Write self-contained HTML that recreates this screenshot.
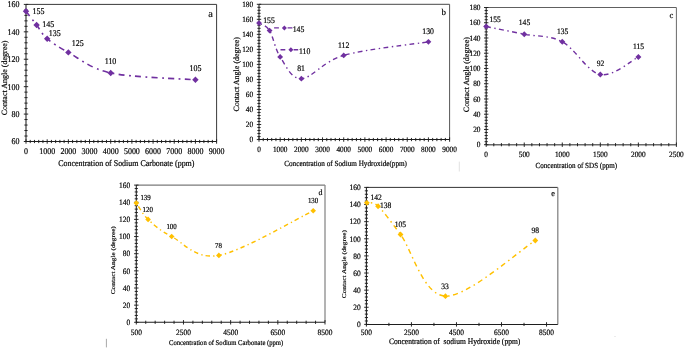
<!DOCTYPE html>
<html><head><meta charset="utf-8"><style>
html,body{margin:0;padding:0;background:#fff;}
svg{display:block;will-change:transform;filter:blur(0.3px);}
text{font-family:"Liberation Serif", serif;fill:#000;text-rendering:geometricPrecision;stroke:#000;stroke-width:0.18px;}
</style></head><body>
<svg width="685" height="349" viewBox="0 0 685 349">
<path d="M26,4.4 H216.6" fill="none" stroke="#3a3a3a" stroke-width="1"/>
<path d="M216.6,4.4 V141.5" fill="none" stroke="#3a3a3a" stroke-width="1"/>
<path d="M26,4.4 V141.5" fill="none" stroke="#1e1e1e" stroke-width="1.05"/>
<path d="M26,141.5 H216.6" fill="none" stroke="#1e1e1e" stroke-width="1.05"/>
<path d="M23.8,141.5 H28.2 M24.4,136.02 H27.6 M24.4,130.53 H27.6 M24.4,125.05 H27.6 M24.4,119.56 H27.6 M23.8,114.08 H28.2 M24.4,108.6 H27.6 M24.4,103.11 H27.6 M24.4,97.63 H27.6 M24.4,92.14 H27.6 M23.8,86.66 H28.2 M24.4,81.18 H27.6 M24.4,75.69 H27.6 M24.4,70.21 H27.6 M24.4,64.72 H27.6 M23.8,59.24 H28.2 M24.4,53.76 H27.6 M24.4,48.27 H27.6 M24.4,42.79 H27.6 M24.4,37.3 H27.6 M23.8,31.82 H28.2 M24.4,26.34 H27.6 M24.4,20.85 H27.6 M24.4,15.37 H27.6 M24.4,9.88 H27.6 M23.8,4.4 H28.2 M26,139.3 V143.7 M30.24,139.9 V143.1 M34.47,139.9 V143.1 M38.71,139.9 V143.1 M42.94,139.9 V143.1 M47.18,139.3 V143.7 M51.41,139.9 V143.1 M55.65,139.9 V143.1 M59.88,139.9 V143.1 M64.12,139.9 V143.1 M68.36,139.3 V143.7 M72.59,139.9 V143.1 M76.83,139.9 V143.1 M81.06,139.9 V143.1 M85.3,139.9 V143.1 M89.53,139.3 V143.7 M93.77,139.9 V143.1 M98,139.9 V143.1 M102.24,139.9 V143.1 M106.48,139.9 V143.1 M110.71,139.3 V143.7 M114.95,139.9 V143.1 M119.18,139.9 V143.1 M123.42,139.9 V143.1 M127.65,139.9 V143.1 M131.89,139.3 V143.7 M136.12,139.9 V143.1 M140.36,139.9 V143.1 M144.6,139.9 V143.1 M148.83,139.9 V143.1 M153.07,139.3 V143.7 M157.3,139.9 V143.1 M161.54,139.9 V143.1 M165.77,139.9 V143.1 M170.01,139.9 V143.1 M174.24,139.3 V143.7 M178.48,139.9 V143.1 M182.72,139.9 V143.1 M186.95,139.9 V143.1 M191.19,139.9 V143.1 M195.42,139.3 V143.7 M199.66,139.9 V143.1 M203.89,139.9 V143.1 M208.13,139.9 V143.1 M212.36,139.9 V143.1 M216.6,139.3 V143.7" stroke="#1e1e1e" stroke-width="0.95" fill="none"/>
<text transform="translate(19.4,144.48) scale(1,1.1)" font-size="7.98" text-anchor="end" >60</text>
<text transform="translate(19.4,117.06) scale(1,1.1)" font-size="7.98" text-anchor="end" >80</text>
<text transform="translate(19.4,89.64) scale(1,1.1)" font-size="7.98" text-anchor="end" >100</text>
<text transform="translate(19.4,62.22) scale(1,1.1)" font-size="7.98" text-anchor="end" >120</text>
<text transform="translate(19.4,34.8) scale(1,1.1)" font-size="7.98" text-anchor="end" >140</text>
<text transform="translate(19.4,7.38) scale(1,1.1)" font-size="7.98" text-anchor="end" >160</text>
<text transform="translate(26,154.08) scale(1,1.1)" font-size="7.98" text-anchor="middle" >0</text>
<text transform="translate(47.18,154.08) scale(1,1.1)" font-size="7.98" text-anchor="middle" >1000</text>
<text transform="translate(68.36,154.08) scale(1,1.1)" font-size="7.98" text-anchor="middle" >2000</text>
<text transform="translate(89.53,154.08) scale(1,1.1)" font-size="7.98" text-anchor="middle" >3000</text>
<text transform="translate(110.71,154.08) scale(1,1.1)" font-size="7.98" text-anchor="middle" >4000</text>
<text transform="translate(131.89,154.08) scale(1,1.1)" font-size="7.98" text-anchor="middle" >5000</text>
<text transform="translate(153.07,154.08) scale(1,1.1)" font-size="7.98" text-anchor="middle" >6000</text>
<text transform="translate(174.24,154.08) scale(1,1.1)" font-size="7.98" text-anchor="middle" >7000</text>
<text transform="translate(195.42,154.08) scale(1,1.1)" font-size="7.98" text-anchor="middle" >8000</text>
<text transform="translate(216.6,154.08) scale(1,1.1)" font-size="7.98" text-anchor="middle" >9000</text>
<text transform="translate(126.3,166) scale(1,1.1)" font-size="7.95" text-anchor="middle" xml:space="preserve">Concentration of Sodium Carbonate (ppm)</text>
<text transform="translate(4.9,77.9) scale(1,1) rotate(-90)" y="2.4" font-size="8.0" text-anchor="middle">Contact Angle (degree)</text>
<text transform="translate(210.5,16.7) scale(1,1.0)" font-size="10.4" text-anchor="middle" >a</text>
<path d="M26,11.25 C27.76,13.54 33.06,20.4 36.59,24.97 C40.12,29.54 41.88,34.1 47.18,38.67 C52.47,43.24 57.77,46.67 68.36,52.39 C78.94,58.1 89.53,68.38 110.71,72.95 C131.89,77.52 181.3,78.66 195.42,79.81" fill="none" stroke="#7030A0" stroke-width="1.6" stroke-dasharray="6 4.5 1.8 4.2" stroke-dashoffset="0"/>
<path d="M26,8.05 L29.2,11.25 L26,14.45 L22.8,11.25Z" fill="#7030A0"/>
<path d="M36.59,21.77 L39.79,24.97 L36.59,28.17 L33.39,24.97Z" fill="#7030A0"/>
<path d="M47.18,35.47 L50.38,38.67 L47.18,41.88 L43.98,38.67Z" fill="#7030A0"/>
<path d="M68.36,49.19 L71.56,52.39 L68.36,55.59 L65.16,52.39Z" fill="#7030A0"/>
<path d="M110.71,69.75 L113.91,72.95 L110.71,76.15 L107.51,72.95Z" fill="#7030A0"/>
<path d="M195.42,76.61 L198.62,79.81 L195.42,83.01 L192.22,79.81Z" fill="#7030A0"/>
<text transform="translate(32.6,14.18) scale(1,1.1)" font-size="7.98" text-anchor="start" >155</text>
<text transform="translate(42.3,26.78) scale(1,1.1)" font-size="7.98" text-anchor="start" >145</text>
<text transform="translate(48.7,35.78) scale(1,1.1)" font-size="7.98" text-anchor="start" >135</text>
<text transform="translate(71.7,45.98) scale(1,1.1)" font-size="7.98" text-anchor="start" >125</text>
<text transform="translate(104.7,64.08) scale(1,1.1)" font-size="7.98" text-anchor="start" >110</text>
<text transform="translate(195.4,70.98) scale(1,1.1)" font-size="7.98" text-anchor="middle" >105</text>
<path d="M259,4.3 H449.6" fill="none" stroke="#484848" stroke-width="1"/>
<path d="M449.6,4.3 V139.55" fill="none" stroke="#555" stroke-width="1"/>
<path d="M259,4.3 V139.55" fill="none" stroke="#1e1e1e" stroke-width="1.05"/>
<path d="M259,139.55 H449.6" fill="none" stroke="#1e1e1e" stroke-width="1.05"/>
<path d="M256.8,139.55 H261.2 M257.4,136.54 H260.6 M257.4,133.54 H260.6 M257.4,130.53 H260.6 M257.4,127.53 H260.6 M256.8,124.52 H261.2 M257.4,121.52 H260.6 M257.4,118.51 H260.6 M257.4,115.51 H260.6 M257.4,112.5 H260.6 M256.8,109.49 H261.2 M257.4,106.49 H260.6 M257.4,103.48 H260.6 M257.4,100.48 H260.6 M257.4,97.47 H260.6 M256.8,94.47 H261.2 M257.4,91.46 H260.6 M257.4,88.46 H260.6 M257.4,85.45 H260.6 M257.4,82.44 H260.6 M256.8,79.44 H261.2 M257.4,76.43 H260.6 M257.4,73.43 H260.6 M257.4,70.42 H260.6 M257.4,67.42 H260.6 M256.8,64.41 H261.2 M257.4,61.41 H260.6 M257.4,58.4 H260.6 M257.4,55.39 H260.6 M257.4,52.39 H260.6 M256.8,49.38 H261.2 M257.4,46.38 H260.6 M257.4,43.37 H260.6 M257.4,40.37 H260.6 M257.4,37.36 H260.6 M256.8,34.36 H261.2 M257.4,31.35 H260.6 M257.4,28.34 H260.6 M257.4,25.34 H260.6 M257.4,22.33 H260.6 M256.8,19.33 H261.2 M257.4,16.32 H260.6 M257.4,13.32 H260.6 M257.4,10.31 H260.6 M257.4,7.31 H260.6 M256.8,4.3 H261.2 M259,137.35 V141.75 M263.24,137.95 V141.15 M267.47,137.95 V141.15 M271.71,137.95 V141.15 M275.94,137.95 V141.15 M280.18,137.35 V141.75 M284.41,137.95 V141.15 M288.65,137.95 V141.15 M292.88,137.95 V141.15 M297.12,137.95 V141.15 M301.36,137.35 V141.75 M305.59,137.95 V141.15 M309.83,137.95 V141.15 M314.06,137.95 V141.15 M318.3,137.95 V141.15 M322.53,137.35 V141.75 M326.77,137.95 V141.15 M331,137.95 V141.15 M335.24,137.95 V141.15 M339.48,137.95 V141.15 M343.71,137.35 V141.75 M347.95,137.95 V141.15 M352.18,137.95 V141.15 M356.42,137.95 V141.15 M360.65,137.95 V141.15 M364.89,137.35 V141.75 M369.12,137.95 V141.15 M373.36,137.95 V141.15 M377.6,137.95 V141.15 M381.83,137.95 V141.15 M386.07,137.35 V141.75 M390.3,137.95 V141.15 M394.54,137.95 V141.15 M398.77,137.95 V141.15 M403.01,137.95 V141.15 M407.24,137.35 V141.75 M411.48,137.95 V141.15 M415.72,137.95 V141.15 M419.95,137.95 V141.15 M424.19,137.95 V141.15 M428.42,137.35 V141.75 M432.66,137.95 V141.15 M436.89,137.95 V141.15 M441.13,137.95 V141.15 M445.36,137.95 V141.15 M449.6,137.35 V141.75" stroke="#1e1e1e" stroke-width="0.95" fill="none"/>
<text transform="translate(253.1,142.48) scale(1,1.1)" font-size="7.3" text-anchor="end" >0</text>
<text transform="translate(253.1,127.45) scale(1,1.1)" font-size="7.3" text-anchor="end" >20</text>
<text transform="translate(253.1,112.42) scale(1,1.1)" font-size="7.3" text-anchor="end" >40</text>
<text transform="translate(253.1,97.4) scale(1,1.1)" font-size="7.3" text-anchor="end" >60</text>
<text transform="translate(253.1,82.37) scale(1,1.1)" font-size="7.3" text-anchor="end" >80</text>
<text transform="translate(253.1,67.34) scale(1,1.1)" font-size="7.3" text-anchor="end" >100</text>
<text transform="translate(253.1,52.31) scale(1,1.1)" font-size="7.3" text-anchor="end" >120</text>
<text transform="translate(253.1,37.28) scale(1,1.1)" font-size="7.3" text-anchor="end" >140</text>
<text transform="translate(253.1,22.26) scale(1,1.1)" font-size="7.3" text-anchor="end" >160</text>
<text transform="translate(253.1,7.23) scale(1,1.1)" font-size="7.3" text-anchor="end" >180</text>
<text transform="translate(259,151.97) scale(1,1.1)" font-size="7.3" text-anchor="middle" >0</text>
<text transform="translate(280.18,151.97) scale(1,1.1)" font-size="7.3" text-anchor="middle" >1000</text>
<text transform="translate(301.36,151.97) scale(1,1.1)" font-size="7.3" text-anchor="middle" >2000</text>
<text transform="translate(322.53,151.97) scale(1,1.1)" font-size="7.3" text-anchor="middle" >3000</text>
<text transform="translate(343.71,151.97) scale(1,1.1)" font-size="7.3" text-anchor="middle" >4000</text>
<text transform="translate(364.89,151.97) scale(1,1.1)" font-size="7.3" text-anchor="middle" >5000</text>
<text transform="translate(386.07,151.97) scale(1,1.1)" font-size="7.3" text-anchor="middle" >6000</text>
<text transform="translate(407.24,151.97) scale(1,1.1)" font-size="7.3" text-anchor="middle" >7000</text>
<text transform="translate(428.42,151.97) scale(1,1.1)" font-size="7.3" text-anchor="middle" >8000</text>
<text transform="translate(449.6,151.97) scale(1,1.1)" font-size="7.3" text-anchor="middle" >9000</text>
<text transform="translate(345.6,165.7) scale(1,1.1)" font-size="7.2" text-anchor="middle" xml:space="preserve">Concentration of Sodium Hydroxide(ppm)</text>
<text transform="translate(236.7,74.3) scale(1,1) rotate(-90)" y="2.4" font-size="8.0" text-anchor="middle">Contact Angle (degree)</text>
<text transform="translate(443.7,15.2) scale(1,1.0)" font-size="9" text-anchor="middle" >b</text>
<path d="M259,23.08 C260.76,24.34 266.06,24.96 269.59,30.6 C273.12,36.23 274.88,48.88 280.18,56.9 C285.47,64.91 290.77,78.94 301.36,78.69 C311.94,78.44 322.53,61.53 343.71,55.39 C364.89,49.26 414.3,44.12 428.42,41.87" fill="none" stroke="#7030A0" stroke-width="1.4" stroke-dasharray="4.73 3.55 1.42 3.31" stroke-dashoffset="6.4"/>
<path d="M274.1,27.9 H278.9 M287.6,27.9 H292.4 M280.5,49.8 H285.3 M293.6,49.8 H298.2" stroke="#7030A0" stroke-width="1.4" fill="none"/>
<path d="M284.4,25.4 L286.9,27.9 L284.4,30.4 L281.9,27.9Z" fill="#7030A0"/>
<path d="M290.9,47.3 L293.4,49.8 L290.9,52.3 L288.4,49.8Z" fill="#7030A0"/>
<path d="M259,20.18 L261.9,23.08 L259,25.98 L256.1,23.08Z" fill="#7030A0"/>
<path d="M269.59,27.7 L272.49,30.6 L269.59,33.5 L266.69,30.6Z" fill="#7030A0"/>
<path d="M280.18,54 L283.08,56.9 L280.18,59.8 L277.28,56.9Z" fill="#7030A0"/>
<path d="M301.36,75.79 L304.26,78.69 L301.36,81.59 L298.46,78.69Z" fill="#7030A0"/>
<path d="M343.71,52.49 L346.61,55.39 L343.71,58.29 L340.81,55.39Z" fill="#7030A0"/>
<path d="M428.42,38.97 L431.32,41.87 L428.42,44.77 L425.52,41.87Z" fill="#7030A0"/>
<text transform="translate(263.2,22.81) scale(1,1.1)" font-size="7.77" text-anchor="start" >155</text>
<text transform="translate(292.7,31.81) scale(1,1.1)" font-size="7.77" text-anchor="start" >145</text>
<text transform="translate(299,53.51) scale(1,1.1)" font-size="7.77" text-anchor="start" >110</text>
<text transform="translate(301.1,71.01) scale(1,1.1)" font-size="7.77" text-anchor="middle" >81</text>
<text transform="translate(343.6,48.01) scale(1,1.1)" font-size="7.77" text-anchor="middle" >112</text>
<text transform="translate(428.1,34.31) scale(1,1.1)" font-size="7.77" text-anchor="middle" >130</text>
<path d="M486.2,7.5 H676.4" fill="none" stroke="#606060" stroke-width="1"/>
<path d="M676.4,7.5 V144.7" fill="none" stroke="#6a6a6a" stroke-width="1"/>
<path d="M486.2,7.5 V144.7" fill="none" stroke="#1e1e1e" stroke-width="1.05"/>
<path d="M486.2,144.7 H676.4" fill="none" stroke="#6a6a6a" stroke-width="1.5"/>
<path d="M484,144.7 H488.4 M484.6,141.65 H487.8 M484.6,138.6 H487.8 M484.6,135.55 H487.8 M484.6,132.5 H487.8 M484,129.46 H488.4 M484.6,126.41 H487.8 M484.6,123.36 H487.8 M484.6,120.31 H487.8 M484.6,117.26 H487.8 M484,114.21 H488.4 M484.6,111.16 H487.8 M484.6,108.11 H487.8 M484.6,105.06 H487.8 M484.6,102.02 H487.8 M484,98.97 H488.4 M484.6,95.92 H487.8 M484.6,92.87 H487.8 M484.6,89.82 H487.8 M484.6,86.77 H487.8 M484,83.72 H488.4 M484.6,80.67 H487.8 M484.6,77.62 H487.8 M484.6,74.58 H487.8 M484.6,71.53 H487.8 M484,68.48 H488.4 M484.6,65.43 H487.8 M484.6,62.38 H487.8 M484.6,59.33 H487.8 M484.6,56.28 H487.8 M484,53.23 H488.4 M484.6,50.18 H487.8 M484.6,47.14 H487.8 M484.6,44.09 H487.8 M484.6,41.04 H487.8 M484,37.99 H488.4 M484.6,34.94 H487.8 M484.6,31.89 H487.8 M484.6,28.84 H487.8 M484.6,25.79 H487.8 M484,22.74 H488.4 M484.6,19.7 H487.8 M484.6,16.65 H487.8 M484.6,13.6 H487.8 M484.6,10.55 H487.8 M484,7.5 H488.4 M486.2,142.5 V146.9 M493.81,143.1 V146.3 M501.42,143.1 V146.3 M509.02,143.1 V146.3 M516.63,143.1 V146.3 M524.24,142.5 V146.9 M531.85,143.1 V146.3 M539.46,143.1 V146.3 M547.06,143.1 V146.3 M554.67,143.1 V146.3 M562.28,142.5 V146.9 M569.89,143.1 V146.3 M577.5,143.1 V146.3 M585.1,143.1 V146.3 M592.71,143.1 V146.3 M600.32,142.5 V146.9 M607.93,143.1 V146.3 M615.54,143.1 V146.3 M623.14,143.1 V146.3 M630.75,143.1 V146.3 M638.36,142.5 V146.9 M645.97,143.1 V146.3 M653.58,143.1 V146.3 M661.18,143.1 V146.3 M668.79,143.1 V146.3 M676.4,142.5 V146.9" stroke="#1e1e1e" stroke-width="0.95" fill="none"/>
<text transform="translate(480.5,147.25) scale(1,1.1)" font-size="7.35" text-anchor="end" >0</text>
<text transform="translate(480.5,132) scale(1,1.1)" font-size="7.35" text-anchor="end" >20</text>
<text transform="translate(480.5,116.76) scale(1,1.1)" font-size="7.35" text-anchor="end" >40</text>
<text transform="translate(480.5,101.52) scale(1,1.1)" font-size="7.35" text-anchor="end" >60</text>
<text transform="translate(480.5,86.27) scale(1,1.1)" font-size="7.35" text-anchor="end" >80</text>
<text transform="translate(480.5,71.03) scale(1,1.1)" font-size="7.35" text-anchor="end" >100</text>
<text transform="translate(480.5,55.78) scale(1,1.1)" font-size="7.35" text-anchor="end" >120</text>
<text transform="translate(480.5,40.54) scale(1,1.1)" font-size="7.35" text-anchor="end" >140</text>
<text transform="translate(480.5,25.29) scale(1,1.1)" font-size="7.35" text-anchor="end" >160</text>
<text transform="translate(480.5,10.05) scale(1,1.1)" font-size="7.35" text-anchor="end" >180</text>
<text transform="translate(486.2,157.15) scale(1,1.1)" font-size="7.35" text-anchor="middle" >0</text>
<text transform="translate(524.24,157.15) scale(1,1.1)" font-size="7.35" text-anchor="middle" >500</text>
<text transform="translate(562.28,157.15) scale(1,1.1)" font-size="7.35" text-anchor="middle" >1000</text>
<text transform="translate(600.32,157.15) scale(1,1.1)" font-size="7.35" text-anchor="middle" >1500</text>
<text transform="translate(638.36,157.15) scale(1,1.1)" font-size="7.35" text-anchor="middle" >2000</text>
<text transform="translate(676.4,157.15) scale(1,1.1)" font-size="7.35" text-anchor="middle" >2500</text>
<text transform="translate(576.3,168) scale(1,1.1)" font-size="7.1" text-anchor="middle" xml:space="preserve">Concentration of SDS (ppm)</text>
<text transform="translate(466.2,74.6) scale(1,1) rotate(-90)" y="2.42" font-size="8.05" text-anchor="middle">Contact Angle (degree)</text>
<text transform="translate(671.3,17.9) scale(1,1.0)" font-size="8.6" text-anchor="middle" >c</text>
<path d="M486.2,26.56 C492.54,27.83 511.56,31.64 524.24,34.18 C536.92,36.72 549.6,35.07 562.28,41.8 C574.96,48.53 587.64,72.03 600.32,74.58 C613,77.12 632.02,59.97 638.36,57.04" fill="none" stroke="#7030A0" stroke-width="1.4" stroke-dasharray="4.8 3.6 1.44 3.36" stroke-dashoffset="0"/>
<path d="M486.2,23.56 L489.2,26.56 L486.2,29.56 L483.2,26.56Z" fill="#7030A0"/>
<path d="M524.24,31.18 L527.24,34.18 L524.24,37.18 L521.24,34.18Z" fill="#7030A0"/>
<path d="M562.28,38.8 L565.28,41.8 L562.28,44.8 L559.28,41.8Z" fill="#7030A0"/>
<path d="M600.32,71.58 L603.32,74.58 L600.32,77.58 L597.32,74.58Z" fill="#7030A0"/>
<path d="M638.36,54.04 L641.36,57.04 L638.36,60.04 L635.36,57.04Z" fill="#7030A0"/>
<text transform="translate(489.4,21.73) scale(1,1.1)" font-size="7.56" text-anchor="start" >155</text>
<text transform="translate(524.5,25.43) scale(1,1.1)" font-size="7.56" text-anchor="middle" >145</text>
<text transform="translate(562.6,33.63) scale(1,1.1)" font-size="7.56" text-anchor="middle" >135</text>
<text transform="translate(600.5,66.23) scale(1,1.1)" font-size="7.56" text-anchor="middle" >92</text>
<text transform="translate(638.5,48.63) scale(1,1.1)" font-size="7.56" text-anchor="middle" >115</text>
<path d="M136.3,185.1 H325" fill="none" stroke="#7a7a7a" stroke-width="1.3"/>
<path d="M325,185.1 V322.3" fill="none" stroke="#8a8a8a" stroke-width="1.3"/>
<path d="M136.3,185.1 V322.3" fill="none" stroke="#1e1e1e" stroke-width="1.05"/>
<path d="M136.3,322.3 H325" fill="none" stroke="#1e1e1e" stroke-width="1.05"/>
<path d="M134.1,322.3 H138.5 M134.7,318.87 H137.9 M134.7,315.44 H137.9 M134.7,312.01 H137.9 M134.7,308.58 H137.9 M134.1,305.15 H138.5 M134.7,301.72 H137.9 M134.7,298.29 H137.9 M134.7,294.86 H137.9 M134.7,291.43 H137.9 M134.1,288 H138.5 M134.7,284.57 H137.9 M134.7,281.14 H137.9 M134.7,277.71 H137.9 M134.7,274.28 H137.9 M134.1,270.85 H138.5 M134.7,267.42 H137.9 M134.7,263.99 H137.9 M134.7,260.56 H137.9 M134.7,257.13 H137.9 M134.1,253.7 H138.5 M134.7,250.27 H137.9 M134.7,246.84 H137.9 M134.7,243.41 H137.9 M134.7,239.98 H137.9 M134.1,236.55 H138.5 M134.7,233.12 H137.9 M134.7,229.69 H137.9 M134.7,226.26 H137.9 M134.7,222.83 H137.9 M134.1,219.4 H138.5 M134.7,215.97 H137.9 M134.7,212.54 H137.9 M134.7,209.11 H137.9 M134.7,205.68 H137.9 M134.1,202.25 H138.5 M134.7,198.82 H137.9 M134.7,195.39 H137.9 M134.7,191.96 H137.9 M134.7,188.53 H137.9 M134.1,185.1 H138.5 M136.3,320.1 V324.5 M145.74,320.7 V323.9 M155.17,320.7 V323.9 M164.61,320.7 V323.9 M174.04,320.7 V323.9 M183.48,320.1 V324.5 M192.91,320.7 V323.9 M202.35,320.7 V323.9 M211.78,320.7 V323.9 M221.22,320.7 V323.9 M230.65,320.1 V324.5 M240.09,320.7 V323.9 M249.52,320.7 V323.9 M258.95,320.7 V323.9 M268.39,320.7 V323.9 M277.83,320.1 V324.5 M287.26,320.7 V323.9 M296.7,320.7 V323.9 M306.13,320.7 V323.9 M315.56,320.7 V323.9 M325,320.1 V324.5" stroke="#1e1e1e" stroke-width="0.95" fill="none"/>
<text transform="translate(130.2,325.09) scale(1,1.1)" font-size="7.46" text-anchor="end" >0</text>
<text transform="translate(130.2,307.94) scale(1,1.1)" font-size="7.46" text-anchor="end" >20</text>
<text transform="translate(130.2,290.79) scale(1,1.1)" font-size="7.46" text-anchor="end" >40</text>
<text transform="translate(130.2,273.64) scale(1,1.1)" font-size="7.46" text-anchor="end" >60</text>
<text transform="translate(130.2,256.49) scale(1,1.1)" font-size="7.46" text-anchor="end" >80</text>
<text transform="translate(130.2,239.34) scale(1,1.1)" font-size="7.46" text-anchor="end" >100</text>
<text transform="translate(130.2,222.19) scale(1,1.1)" font-size="7.46" text-anchor="end" >120</text>
<text transform="translate(130.2,205.04) scale(1,1.1)" font-size="7.46" text-anchor="end" >140</text>
<text transform="translate(130.2,187.89) scale(1,1.1)" font-size="7.46" text-anchor="end" >160</text>
<text transform="translate(136.3,334.69) scale(1,1.1)" font-size="7.46" text-anchor="middle" >500</text>
<text transform="translate(183.48,334.69) scale(1,1.1)" font-size="7.46" text-anchor="middle" >2500</text>
<text transform="translate(230.65,334.69) scale(1,1.1)" font-size="7.46" text-anchor="middle" >4500</text>
<text transform="translate(277.83,334.69) scale(1,1.1)" font-size="7.46" text-anchor="middle" >6500</text>
<text transform="translate(325,334.69) scale(1,1.1)" font-size="7.46" text-anchor="middle" >8500</text>
<text transform="translate(226.15,344.6) scale(1,1.1)" font-size="6.66" text-anchor="middle" xml:space="preserve">Concentration of Sodium Carbonate (ppm)</text>
<text transform="translate(112.75,260.25) scale(0.8,1) rotate(-90)" y="2.19" font-size="7.3" text-anchor="middle">Contact Angle (degree)</text>
<text transform="translate(320.4,194.5) scale(1,1.0)" font-size="8" text-anchor="middle" >d</text>
<path d="M136.3,203.11 C138.27,205.82 142.2,213.83 148.09,219.4 C153.99,224.97 159.89,230.55 171.68,236.55 C183.48,242.55 195.27,259.7 218.86,255.41 C242.44,251.13 297.48,218.26 313.21,210.82" fill="none" stroke="#FFC000" stroke-width="1.45" stroke-dasharray="4.4 3.3 1.32 3.08" stroke-dashoffset="-4"/>
<path d="M136.3,200.31 L139.1,203.11 L136.3,205.91 L133.5,203.11Z" fill="#FFC000"/>
<path d="M148.09,216.6 L150.89,219.4 L148.09,222.2 L145.29,219.4Z" fill="#FFC000"/>
<path d="M171.68,233.75 L174.48,236.55 L171.68,239.35 L168.88,236.55Z" fill="#FFC000"/>
<path d="M218.86,252.61 L221.66,255.41 L218.86,258.21 L216.06,255.41Z" fill="#FFC000"/>
<path d="M313.21,208.02 L316.01,210.82 L313.21,213.62 L310.41,210.82Z" fill="#FFC000"/>
<text transform="translate(140.4,200.19) scale(1,1.1)" font-size="6.93" text-anchor="start" >139</text>
<text transform="translate(142.5,211.99) scale(1,1.1)" font-size="6.93" text-anchor="start" >120</text>
<text transform="translate(171.6,229.19) scale(1,1.1)" font-size="6.93" text-anchor="middle" >100</text>
<text transform="translate(218.5,247.99) scale(1,1.1)" font-size="6.93" text-anchor="middle" >78</text>
<text transform="translate(313.1,203.39) scale(1,1.1)" font-size="6.93" text-anchor="middle" >130</text>
<path d="M366.4,187.4 H557.8" fill="none" stroke="#333" stroke-width="1"/>
<path d="M557.8,187.4 V324.4" fill="none" stroke="#858585" stroke-width="1.3"/>
<path d="M366.4,187.4 V324.4" fill="none" stroke="#1e1e1e" stroke-width="1.05"/>
<path d="M366.4,324.4 H557.8" fill="none" stroke="#1e1e1e" stroke-width="1.05"/>
<path d="M364.2,324.4 H368.6 M364.8,320.97 H368 M364.8,317.55 H368 M364.8,314.12 H368 M364.8,310.7 H368 M364.2,307.27 H368.6 M364.8,303.85 H368 M364.8,300.42 H368 M364.8,297 H368 M364.8,293.57 H368 M364.2,290.15 H368.6 M364.8,286.72 H368 M364.8,283.3 H368 M364.8,279.88 H368 M364.8,276.45 H368 M364.2,273.02 H368.6 M364.8,269.6 H368 M364.8,266.18 H368 M364.8,262.75 H368 M364.8,259.32 H368 M364.2,255.9 H368.6 M364.8,252.47 H368 M364.8,249.05 H368 M364.8,245.62 H368 M364.8,242.2 H368 M364.2,238.78 H368.6 M364.8,235.35 H368 M364.8,231.93 H368 M364.8,228.5 H368 M364.8,225.07 H368 M364.2,221.65 H368.6 M364.8,218.22 H368 M364.8,214.8 H368 M364.8,211.38 H368 M364.8,207.95 H368 M364.2,204.53 H368.6 M364.8,201.1 H368 M364.8,197.68 H368 M364.8,194.25 H368 M364.8,190.82 H368 M364.2,187.4 H368.6 M366.4,322.2 V326.6 M388.92,322.8 V326 M411.44,322.2 V326.6 M433.95,322.8 V326 M456.47,322.2 V326.6 M478.99,322.8 V326 M501.51,322.2 V326.6 M524.02,322.8 V326 M546.54,322.2 V326.6" stroke="#1e1e1e" stroke-width="0.95" fill="none"/>
<text transform="translate(360.7,327.19) scale(1,1.1)" font-size="7.46" text-anchor="end" >0</text>
<text transform="translate(360.7,310.06) scale(1,1.1)" font-size="7.46" text-anchor="end" >20</text>
<text transform="translate(360.7,292.94) scale(1,1.1)" font-size="7.46" text-anchor="end" >40</text>
<text transform="translate(360.7,275.81) scale(1,1.1)" font-size="7.46" text-anchor="end" >60</text>
<text transform="translate(360.7,258.69) scale(1,1.1)" font-size="7.46" text-anchor="end" >80</text>
<text transform="translate(360.7,241.56) scale(1,1.1)" font-size="7.46" text-anchor="end" >100</text>
<text transform="translate(360.7,224.44) scale(1,1.1)" font-size="7.46" text-anchor="end" >120</text>
<text transform="translate(360.7,207.31) scale(1,1.1)" font-size="7.46" text-anchor="end" >140</text>
<text transform="translate(360.7,190.19) scale(1,1.1)" font-size="7.46" text-anchor="end" >160</text>
<text transform="translate(366.4,335.09) scale(1,1.1)" font-size="7.46" text-anchor="middle" >500</text>
<text transform="translate(411.44,335.09) scale(1,1.1)" font-size="7.46" text-anchor="middle" >2500</text>
<text transform="translate(456.47,335.09) scale(1,1.1)" font-size="7.46" text-anchor="middle" >4500</text>
<text transform="translate(501.51,335.09) scale(1,1.1)" font-size="7.46" text-anchor="middle" >6500</text>
<text transform="translate(546.54,335.09) scale(1,1.1)" font-size="7.46" text-anchor="middle" >8500</text>
<text transform="translate(454.6,343.8) scale(1,1.1)" font-size="7.55" text-anchor="middle" xml:space="preserve">Concentration of  sodium Hydroxide (ppm)</text>
<text transform="translate(344.45,264.2) scale(0.8,1) rotate(-90)" y="2.19" font-size="7.3" text-anchor="middle">Contact Angle (degree)</text>
<text transform="translate(553,196.1) scale(1,1.0)" font-size="8.3" text-anchor="middle" >e</text>
<path d="M366.85,202.81 C368.72,203.38 372.46,200.96 378.08,206.24 C383.69,211.52 389.31,219.51 400.54,234.49 C411.77,249.48 422.99,295.14 445.45,296.14 C467.91,297.14 520.31,249.76 535.28,240.49" fill="none" stroke="#FFC000" stroke-width="1.45" stroke-dasharray="5.09 3.82 1.53 3.56" stroke-dashoffset="4.9"/>
<path d="M366.85,199.91 L369.75,202.81 L366.85,205.71 L363.95,202.81Z" fill="#FFC000"/>
<path d="M378.08,203.34 L380.98,206.24 L378.08,209.14 L375.18,206.24Z" fill="#FFC000"/>
<path d="M400.54,231.59 L403.44,234.49 L400.54,237.39 L397.64,234.49Z" fill="#FFC000"/>
<path d="M445.45,293.24 L448.35,296.14 L445.45,299.04 L442.55,296.14Z" fill="#FFC000"/>
<path d="M535.28,237.59 L538.18,240.49 L535.28,243.39 L532.38,240.49Z" fill="#FFC000"/>
<text transform="translate(370.4,200.03) scale(1,1.1)" font-size="7.56" text-anchor="start" >142</text>
<text transform="translate(380,208.23) scale(1,1.1)" font-size="7.56" text-anchor="start" >138</text>
<text transform="translate(394.7,227.33) scale(1,1.1)" font-size="7.56" text-anchor="start" >105</text>
<text transform="translate(445.1,288.83) scale(1,1.1)" font-size="7.56" text-anchor="middle" >33</text>
<text transform="translate(535.3,233.33) scale(1,1.1)" font-size="7.56" text-anchor="middle" >98</text>
<path d="M459.3,161.6 V171.5" stroke="#e2e2e2" stroke-width="1"/>
<path d="M106.4,338.8 V347.4" stroke="#a8a8a8" stroke-width="1"/>
<rect x="614" y="336" width="2" height="1" fill="#ececec"/>
</svg>
</body></html>
